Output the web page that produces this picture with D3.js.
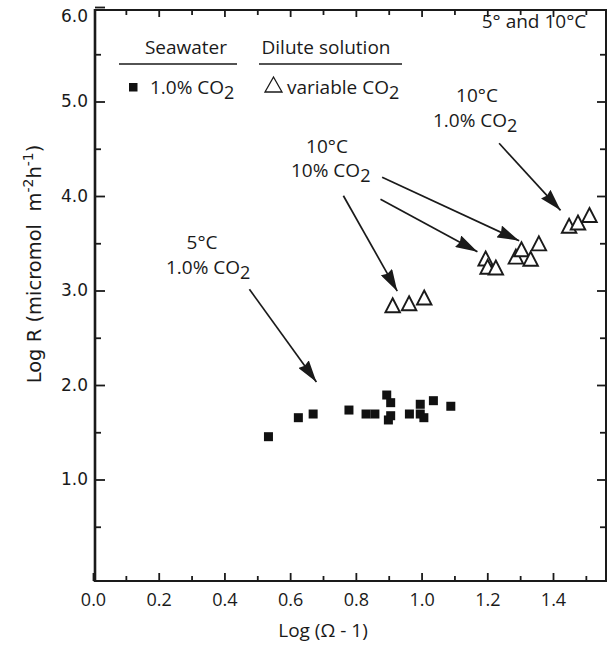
<!DOCTYPE html>
<html><head><meta charset="utf-8">
<script src="https://cdn.jsdelivr.net/npm/d3@7"></script>
<style>body{margin:0;background:#fff}svg{display:block}</style>
</head><body><svg id="c" width="609" height="645"></svg>
<script>
// ---- data ----
const seawaterX = [0.534,0.625,0.670,0.779,0.831,0.858,0.894,0.906,0.906,0.899,0.963,0.996,0.996,1.007,1.036,1.089];
const seawaterY = [1.453,1.654,1.693,1.735,1.693,1.693,1.894,1.813,1.675,1.630,1.693,1.796,1.693,1.654,1.834,1.775];
const diluteX = [0.912,0.962,1.008,1.195,1.201,1.226,1.287,1.304,1.332,1.357,1.449,1.476,1.511];
const diluteY = [2.844,2.865,2.926,3.339,3.251,3.243,3.358,3.437,3.336,3.499,3.685,3.720,3.799];
const xTickValues = [0,0.2,0.4,0.6,0.8,1.0,1.2,1.4];
const xTickLabels = ["0.0","0.2","0.4","0.6","0.8","1.0","1.2","1.4"];
const xMinorTicks = [0.1,0.3,0.5,0.7,0.9,1.1,1.3,1.5];
const yTickValues = [1,2,3,4,5,6];
const yTickLabels = ["1.0","2.0","3.0","4.0","5.0","6.0"];
const yMinorTicks = [0.5,1.5,2.5,3.5,4.5,5.5];
// annotation arrows (data space): from -> to
const arrowFromX = [0.476,0.762,0.875,0.880,1.236];
const arrowFromY = [3.013,4.003,3.965,4.198,4.558];
const arrowToX   = [0.680,0.926,1.170,1.297,1.423];
const arrowToY   = [2.032,2.993,3.411,3.527,3.848];

// ---- layout ----
const svg = d3.select("#c");
const frame = {left:95, right:606, top:10, bottom:581};
const x = d3.scaleLinear().domain([0,1.4]).range([93,553]);
const y = d3.scaleLinear().domain([0,6]).range([574,7]);
const ink = "#1a1a1a";
const annFont = "'Open Sans', sans-serif";
const tickFont = "'DejaVu Sans', sans-serif";

svg.append("defs").append("marker")
  .attr("id","ah").attr("viewBox","0 0 22 13").attr("refX",22).attr("refY",6.5)
  .attr("markerWidth",22).attr("markerHeight",13).attr("markerUnits","userSpaceOnUse")
  .attr("orient","auto")
  .append("path").attr("d","M0,0 L22,6.5 L0,13 L2,6.5 Z").attr("fill",ink);

// frame
const g = svg.append("g");
g.append("rect").attr("x",frame.left).attr("y",frame.top)
  .attr("width",frame.right-frame.left).attr("height",frame.bottom-frame.top)
  .attr("fill","none").attr("stroke",ink).attr("stroke-width",2);
g.append("line").attr("x1",frame.left).attr("x2",frame.left).attr("y1",frame.top-1).attr("y2",frame.bottom+1)
  .attr("stroke",ink).attr("stroke-width",2.6);

function styleAxis(sel){ sel.select(".domain").remove(); sel.selectAll(".tick line").attr("stroke",ink).attr("stroke-width",1.8); }

// bottom axis
const xb = g.append("g").attr("transform",`translate(0,${frame.bottom})`)
  .call(d3.axisBottom(x).tickValues(xTickValues).tickSize(-8).tickPadding(12)
    .tickFormat((d,i)=>xTickLabels[i]));
styleAxis(xb);
xb.selectAll("text").attr("font-family",annFont).attr("font-size",18).attr("fill",ink);
const xbm = g.append("g").attr("transform",`translate(0,${frame.bottom})`)
  .call(d3.axisBottom(x).tickValues(xMinorTicks).tickSize(-5).tickFormat(""));
styleAxis(xbm);
// top axis
const xt = g.append("g").attr("transform",`translate(0,${frame.top})`)
  .call(d3.axisTop(x).tickValues(xTickValues.slice(1)).tickSize(-7).tickFormat(""));
styleAxis(xt);
const xtm = g.append("g").attr("transform",`translate(0,${frame.top})`)
  .call(d3.axisTop(x).tickValues(xMinorTicks).tickSize(-5).tickFormat(""));
styleAxis(xtm);
// left axis
const yl = g.append("g").attr("transform",`translate(${frame.left},0)`)
  .call(d3.axisLeft(y).tickValues(yTickValues).tickSize(-10).tickPadding(7)
    .tickFormat((d,i)=>yTickLabels[i]));
styleAxis(yl);
yl.selectAll("text").attr("font-family",tickFont).attr("font-size",17).attr("fill",ink)
  .attr("dy",(d)=> d===6 ? "0.85em" : "0.32em");
const ylm = g.append("g").attr("transform",`translate(${frame.left},0)`)
  .call(d3.axisLeft(y).tickValues(yMinorTicks).tickSize(-6).tickFormat(""));
styleAxis(ylm);
// right axis
const yr = g.append("g").attr("transform",`translate(${frame.right},0)`)
  .call(d3.axisRight(y).tickValues(yTickValues.slice(0,5)).tickSize(-9).tickFormat(""));
styleAxis(yr);
const yrm = g.append("g").attr("transform",`translate(${frame.right},0)`)
  .call(d3.axisRight(y).tickValues(yMinorTicks).tickSize(-6).tickFormat(""));
styleAxis(yrm);

// axis titles
svg.append("text").attr("x",x(0.7)).attr("y",637).attr("text-anchor","middle")
  .attr("font-family",annFont).attr("font-size",19).attr("fill",ink).text("Log (\u03A9 - 1)");
const yt = svg.append("text").attr("transform","translate(41,264) rotate(-90)")
  .attr("text-anchor","middle").attr("font-family",tickFont).attr("font-size",19.5).attr("fill",ink);
yt.append("tspan").text("Log R (micromol\u00A0\u00A0m");
yt.append("tspan").attr("dy",-8).attr("font-size",14).text("-2");
yt.append("tspan").attr("dy",8).text("h");
yt.append("tspan").attr("dy",-8).attr("font-size",14).text("-1");
yt.append("tspan").attr("dy",8).text(")");

// arrows
g.selectAll("line.arrow").data(arrowFromX).join("line").attr("class","arrow")
  .attr("x1",(d,i)=>x(arrowFromX[i])).attr("y1",(d,i)=>y(arrowFromY[i]))
  .attr("x2",(d,i)=>x(arrowToX[i])).attr("y2",(d,i)=>y(arrowToY[i]))
  .attr("stroke",ink).attr("stroke-width",1.7).attr("marker-end","url(#ah)");

// squares
const sq = 9;
g.selectAll("rect.sw").data(seawaterX).join("rect").attr("class","sw")
  .attr("x",(d,i)=>x(d)-sq/2).attr("y",(d,i)=>y(seawaterY[i])-sq/2)
  .attr("width",sq).attr("height",sq).attr("fill","#111");

// triangles
const tri = (w,h)=>`M0,${-h/2} L${w/2},${h/2} L${-w/2},${h/2} Z`;
g.selectAll("path.dl").data(diluteX).join("path").attr("class","dl")
  .attr("d",tri(14.5,14))
  .attr("transform",(d,i)=>`translate(${x(d)},${y(diluteY[i])})`)
  .attr("fill","#fff").attr("stroke",ink).attr("stroke-width",1.9).attr("stroke-linejoin","miter");

// text helper with subscript
function label(xp, yp, main, sub, anchor){
  const t = svg.append("text").attr("x",xp).attr("y",yp).attr("text-anchor",anchor||"start")
    .attr("font-family",annFont).attr("font-size",19).attr("fill",ink);
  t.append("tspan").text(main);
  if(sub){ t.append("tspan").attr("dy",5).attr("font-size",18).text(sub); }
  return t;
}
// legend
label(186,54,"Seawater",null,"middle");
label(326,54,"Dilute solution",null,"middle");
svg.append("line").attr("x1",119).attr("x2",237).attr("y1",64).attr("y2",64).attr("stroke",ink).attr("stroke-width",1.6);
svg.append("line").attr("x1",259).attr("x2",402).attr("y1",64).attr("y2",64).attr("stroke",ink).attr("stroke-width",1.6);
svg.append("rect").attr("x",129).attr("y",83).attr("width",8.5).attr("height",8.5).attr("fill","#111");
label(150,94,"1.0% CO","2");
svg.append("path").attr("d",tri(17,15)).attr("transform","translate(273.5,84.5)")
  .attr("fill","none").attr("stroke",ink).attr("stroke-width",1.3);
label(287,94,"variable CO","2");
label(534,28,"5\u00B0 and 10\u00B0C",null,"middle");
// annotations
label(477,102,"10\u00B0C",null,"middle");
label(433,127,"1.0% CO","2");
label(327,153,"10\u00B0C",null,"middle");
label(291,177,"10% CO","2");
label(202,249,"5\u00B0C",null,"middle");
label(166,274,"1.0% CO","2");
</script></body></html>
